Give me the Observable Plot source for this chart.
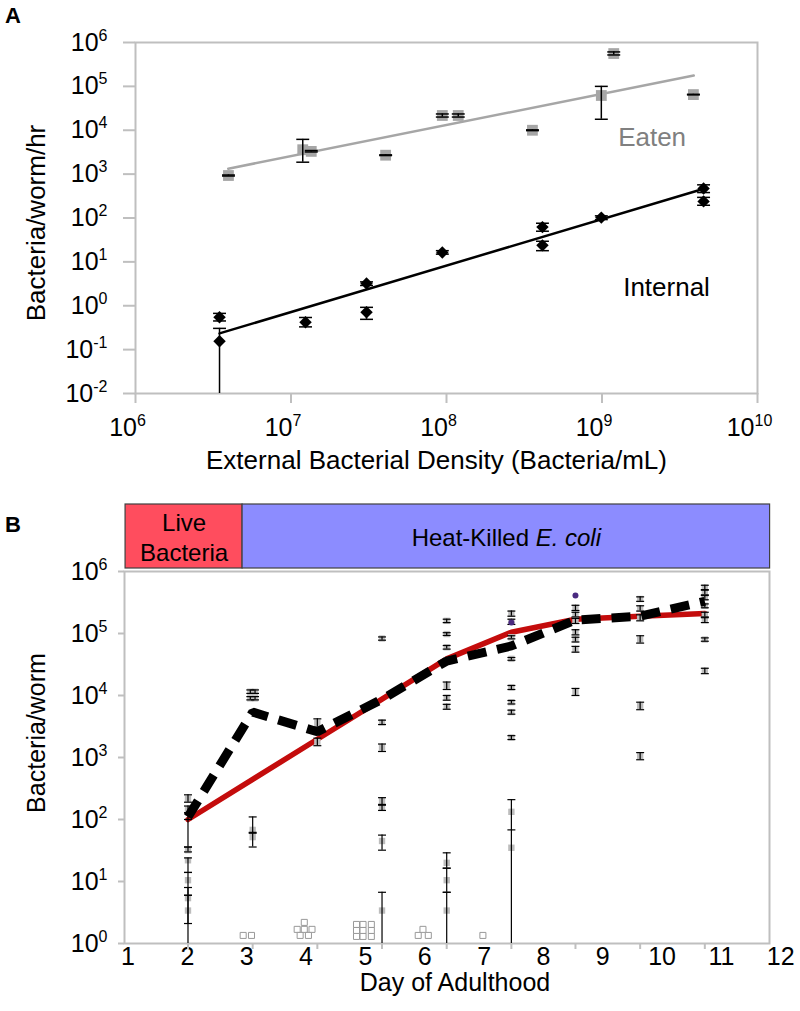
<!DOCTYPE html>
<html>
<head>
<meta charset="utf-8">
<script src="https://cdn.jsdelivr.net/npm/d3@7"></script>
<script src="https://cdn.jsdelivr.net/npm/@observablehq/plot@0.6"></script>
<style>
  body { margin: 0; background: #fff; font-family: "Liberation Sans", Arial, Helvetica, sans-serif; }
  #wrap { position: relative; width: 800px; height: 1011px; overflow: hidden; background: #fff; }
  .layer { position: absolute; left: 0; }
  .letter { position: absolute; font-weight: bold; font-size: 22px; line-height: 24px; }
</style>
</head>
<body>
<div id="wrap">
  <div id="pa" class="layer" style="top:0px"></div>
  <div id="pb" class="layer" style="top:500px"></div>
  <div id="banner" class="layer" style="top:502px"></div>
  <div class="letter" style="left:5px;top:4px">A</div>
  <div class="letter" style="left:5px;top:513px">B</div>
</div>
<script>
// ---------------- Panel A data ----------------
const xTicksA = [1e6, 1e7, 1e8, 1e9, 1e10];
const yTicksA = [1e-2, 1e-1, 1e0, 1e1, 1e2, 1e3, 1e4, 1e5, 1e6];

const eatenDensity = [3.96e6, 1.19e7, 1.35e7, 4.06e7, 9.4e7, 1.19e8, 3.57e8, 9.9e8, 1.19e9, 3.87e9];
const eatenRate    = [930, 3600, 3300, 2700, 21700, 21700, 1.0e4, 6.2e4, 5.6e5, 6.5e4];
const eatenLow     = [905, 1870, 3200, 2650, 20000, 20000, 9800, 1.78e4, 5.2e5, 6.4e4];
const eatenHigh    = [955, 6200, 3450, 2750, 23500, 23500, 10200, 1.0e5, 6.1e5, 6.6e4];

const internalDensity = [3.47e6, 3.47e6, 1.24e7, 3.06e7, 3.06e7, 9.4e7, 4.14e8, 4.14e8, 9.9e8, 4.5e9, 4.5e9];
const internalRate    = [0.545, 0.155, 0.42, 3.2, 0.71, 16.4, 62, 23.8, 102, 472, 239];
const internalLow     = [0.45, 0.01, 0.33, 2.9, 0.49, 15, 50, 18, 92, 380, 195];
const internalHigh    = [0.67, 0.305, 0.54, 3.5, 0.92, 18, 76, 29.5, 112, 570, 295];

const eatenFitDensity = [3.95e6, 3.89e9];
const eatenFitRate    = [1330, 1.77e5];
const internalFitDensity = [3.47e6, 4.3e9];
const internalFitRate    = [0.234, 442];

const seriesLabels = [
  {x: 2.1e9, y: 6850, text: "Eaten", color: "#808080"},
  {x: 2.6e9, y: 2.63, text: "Internal", color: "#000000"}
];

// ---------------- Panel B data ----------------
const dayTicks = [1, 2, 3, 4, 5, 6, 7, 8, 9, 10, 11, 12];
const yTicksB = [1, 10, 100, 1e3, 1e4, 1e5, 1e6];
const sampleDays = [2.01, 3.10, 4.19, 5.28, 6.37, 7.46, 8.54, 9.63, 10.72];
const fitCurve  = [100, 444, 1970, 8750, 3.9e4, 1.05e5, 1.7e5, 1.9e5, 2.1e5];
const meanCurve = [110, 5400, 2600, 8700, 3.6e4, 6.3e4, 1.65e5, 1.9e5, 3.3e5];

// individual worms: [day, bacteria/worm, lower, upper]
const wormRows = [
  [2.01, 215, 190, 250], [2.01, 145, 128, 165], [2.01, 32, 30, 36], [2.01, 22, 14, 24],
  [2.01, 10.5, 6, 14], [2.01, 5.4, 2.1, 8], [2.01, 3.4, 1, 6],
  [3.06, 11500, 10800, 12300], [3.14, 11500, 10800, 12300], [3.06, 9000, 8500, 9600], [3.14, 9000, 8500, 9600],
  [3.10, 68, 60, 110], [3.10, 52, 36, 62],
  [4.19, 3600, 3100, 4200], [4.19, 1800, 1550, 2050],
  [5.28, 8.3e4, 7.8e4, 8.8e4], [5.28, 3700, 3400, 4000], [5.28, 1450, 1250, 1650], [5.28, 200, 175, 225],
  [5.28, 155, 140, 170], [5.28, 45, 32, 56], [5.28, 3.4, 1, 6.7],
  [6.37, 1.6e5, 1.5e5, 1.7e5], [6.37, 9.8e4, 9.3e4, 1.03e5], [6.37, 6.0e4, 5.6e4, 6.4e4], [6.37, 3.7e4, 3.45e4, 3.95e4],
  [6.37, 1.45e4, 1.25e4, 1.65e4], [6.37, 9200, 8400, 1.0e4], [6.37, 6600, 6000, 7200],
  [6.37, 20, 16.4, 29], [6.37, 10.5, 6.7, 16.4], [6.37, 3.4, 1, 6.7],
  [7.46, 2.1e5, 1.9e5, 2.3e5], [7.46, 1.55e5, 1.4e5, 1.7e5], [7.46, 8.7e4, 8.2e4, 9.2e4], [7.46, 3.9e4, 3.7e4, 4.1e4],
  [7.46, 1.35e4, 1.25e4, 1.45e4], [7.46, 7800, 7300, 8300], [7.46, 5400, 5000, 5800], [7.46, 2100, 1950, 2250],
  [7.46, 133, null, null], [7.46, 35, null, null],
  [8.54, 2.6e5, 2.35e5, 2.85e5], [8.54, 2.0e5, 1.85e5, 2.2e5], [8.54, 1.6e5, 1.45e5, 1.75e5], [8.54, 1.05e5, 9.5e4, 1.15e5],
  [8.54, 8.0e4, 7.3e4, 8.7e4], [8.54, 5.5e4, 5.0e4, 6.2e4], [8.54, 1.15e4, 1.0e4, 1.3e4],
  [9.63, 3.6e5, 3.3e5, 3.9e5], [9.63, 2.5e5, 2.3e5, 2.8e5], [9.63, 1.8e5, 1.6e5, 2.0e5], [9.63, 8.0e4, 7.0e4, 9.2e4],
  [9.63, 6800, 5900, 7800], [9.63, 1050, 920, 1200],
  [10.72, 5.5e5, 5.1e5, 6.0e5], [10.72, 4.6e5, 4.2e5, 5.0e5], [10.72, 3.8e5, 3.5e5, 4.1e5], [10.72, 2.8e5, 2.6e5, 3.0e5],
  [10.72, 2.0e5, 1.85e5, 2.2e5], [10.72, 1.65e5, 1.5e5, 1.8e5], [10.72, 8.0e4, 7.5e4, 8.5e4], [10.72, 2.5e4, 2.25e4, 2.75e4]
];
// group means with error: [day, mean, lower, upper]
const meanRows = [[2.01, 100, 36, 128], [7.46, 68, 1, 209]];
// undetected worms (open squares): [day, plotted value]
const undetected = [
  [2.94, 1.35], [3.08, 1.35],
  [3.97, 2.19], [3.85, 1.69], [3.97, 1.69], [4.10, 1.69], [3.90, 1.35], [4.04, 1.35],
  [4.85, 2.03], [4.96, 2.03], [5.10, 2.03], [4.85, 1.62], [4.96, 1.62], [5.10, 1.62], [4.85, 1.30], [4.96, 1.30], [5.10, 1.30],
  [5.89, 1.35], [5.97, 1.69], [6.06, 1.35],
  [6.98, 1.35]
];
const outliers = [[7.46, 1.5e5], [8.54, 4.1e5]];

const phases = [
  {label: "Live\nBacteria", start: 0.958, end: 2.93, fill: "#ff4d5e"},
  {label: "Heat-Killed E. coli", start: 2.93, end: 11.82, fill: "#8c8cff"}
];

// ---------------- helpers ----------------
const fontFam = '"Liberation Sans", Arial, Helvetica, sans-serif';
const gridGray = "#bfbfbf";
const supFmt = d => "10^" + Math.round(Math.log10(d));
const capSymbol = {draw(ctx, size) { const w = Math.sqrt(size); ctx.moveTo(-w / 2, 0); ctx.lineTo(w / 2, 0); }};
const diamond = d3.symbolDiamond2 || "diamond";
const baseStyle = {fontFamily: fontFam, fontSize: "25px", background: "transparent", color: "black", overflow: "visible"};

function supify(svg, opts = {}) {
  const ns = "http://www.w3.org/2000/svg";
  svg.querySelectorAll("text").forEach(t => {
    const m = /^10\^(-?\d+)$/.exec(t.textContent);
    if (!m) return;
    t.textContent = "10";
    const s = document.createElementNS(ns, "tspan");
    s.setAttribute("font-size", "16");
    s.setAttribute("dy", "-10");
    s.textContent = m[1];
    t.appendChild(s);
  });
  if (opts.xdx) svg.querySelectorAll('g[aria-label="x-axis tick label"] text').forEach(t => t.setAttribute("dx", opts.xdx));
}
function addYTitle(svg, text, x, y, size) {
  d3.select(svg).append("text")
    .attr("transform", `translate(${x},${y}) rotate(-90)`)
    .attr("text-anchor", "middle").attr("dy", "0.35em")
    .attr("font-size", size).attr("fill", "#000")
    .text(text);
}

// ---------------- Panel A ----------------
const eaten = eatenDensity.map((x, i) => ({x, y: eatenRate[i], lo: eatenLow[i], hi: eatenHigh[i]}));
const internal = internalDensity.map((x, i) => ({x, y: internalRate[i], lo: internalLow[i], hi: internalHigh[i]}));
const eatenFit = eatenFitDensity.map((x, i) => ({x, y: eatenFitRate[i]}));
const internalFit = internalFitDensity.map((x, i) => ({x, y: internalFitRate[i]}));
const minA = yTicksA[0];

const plotA = Plot.plot({
  width: 800, height: 495,
  marginTop: 42, marginRight: 43, marginBottom: 102, marginLeft: 135,
  style: baseStyle,
  x: {type: "log", domain: [xTicksA[0], xTicksA[xTicksA.length - 1]]},
  y: {type: "log", domain: [yTicksA[0], yTicksA[yTicksA.length - 1]]},
  color: {type: "identity"},
  marks: [
    Plot.frame({stroke: gridGray, strokeWidth: 2}),
    Plot.axisY(yTicksA, {tickSize: 12, tickPadding: 16, tickFormat: supFmt, stroke: gridGray, strokeWidth: 2, fontSize: 25, label: null}),
    Plot.axisX(xTicksA, {tickSize: 10, tickPadding: 15, tickFormat: supFmt, stroke: gridGray, strokeWidth: 2, fontSize: 25, label: null}),
    Plot.line(eatenFit, {x: "x", y: "y", stroke: "#a6a6a6", strokeWidth: 2.5}),
    Plot.line(internalFit, {x: "x", y: "y", stroke: "#000", strokeWidth: 2.5}),
    Plot.dot(eaten, {x: "x", y: "y", symbol: "square", r: 6.1, fill: "#a6a6a6", stroke: "none"}),
    Plot.ruleX(eaten, {x: "x", y1: "lo", y2: "hi", stroke: "#000", strokeWidth: 1.5}),
    Plot.dot(eaten, {x: "x", y: "lo", symbol: capSymbol, r: 7.3, fill: "none", stroke: "#000", strokeWidth: 1.5}),
    Plot.dot(eaten, {x: "x", y: "hi", symbol: capSymbol, r: 7.3, fill: "none", stroke: "#000", strokeWidth: 1.5}),
    Plot.ruleX(internal, {x: "x", y1: "lo", y2: "hi", stroke: "#000", strokeWidth: 1.5}),
    Plot.dot(internal.filter(d => d.lo > minA), {x: "x", y: "lo", symbol: capSymbol, r: 7.3, fill: "none", stroke: "#000", strokeWidth: 1.5}),
    Plot.dot(internal, {x: "x", y: "hi", symbol: capSymbol, r: 7.3, fill: "none", stroke: "#000", strokeWidth: 1.5}),
    Plot.dot(internal, {x: "x", y: "y", symbol: diamond, r: 5.6, fill: "#000", stroke: "none"}),
    Plot.text(seriesLabels, {x: "x", y: "y", text: "text", fill: "color", fontSize: 26}),
    Plot.text(["External Bacterial Density (Bacteria/mL)"], {text: d => d, frameAnchor: "bottom", dy: 75, dx: -10, fontSize: 26})
  ]
});
supify(plotA, {xdx: -8});
addYTitle(plotA, "Bacteria/worm/hr", 36, 223, 26);
document.getElementById("pa").appendChild(plotA);

// ---------------- Panel B ----------------
const xDomainB = [0.94, 11.81];
const fit = sampleDays.map((d, i) => ({d, v: fitCurve[i]}));
const meanLine = sampleDays.map((d, i) => ({d, v: meanCurve[i]}));
const worms = wormRows.map(([d, v, lo, hi]) => ({d, v, lo, hi}));
const wormBars = worms.filter(w => w.lo != null);
const means = meanRows.map(([d, v, lo, hi]) => ({d, v, lo, hi}));
const zeros = undetected.map(([d, v]) => ({d, v}));
const odd = outliers.map(([d, v]) => ({d, v}));
const minB = yTicksB[0];
const capB = {symbol: capSymbol, r: 4.5, fill: "none", stroke: "#000", strokeWidth: 1.2};

const plotB = Plot.plot({
  width: 800, height: 511,
  marginTop: 71, marginRight: 31, marginBottom: 68, marginLeft: 124,
  style: baseStyle,
  x: {domain: xDomainB},
  y: {type: "log", domain: [yTicksB[0], yTicksB[yTicksB.length - 1]]},
  marks: [
    Plot.frame({stroke: gridGray, strokeWidth: 2}),
    Plot.axisY(yTicksB, {tickSize: 6, tickPadding: 11, tickFormat: supFmt, stroke: gridGray, strokeWidth: 2, fontSize: 25, label: null}),
    Plot.axisX(dayTicks, {tickSize: 0, tickPadding: 4, fontSize: 25, label: null}),
    Plot.axisX(sampleDays, {tickSize: 6, tickFormat: () => "", stroke: gridGray, strokeWidth: 2, label: null}),
    Plot.dot(zeros, {x: "d", y: "v", symbol: "square", r: 3.4, fill: "#fff", stroke: "#999", strokeWidth: 1}),
    Plot.line(fit, {x: "d", y: "v", stroke: "#c40c0c", strokeWidth: 5.5}),
    Plot.dot(worms, {x: "d", y: "v", symbol: "square", r: 3.6, fill: "#bdbdbd", stroke: "none"}),
    Plot.ruleX(wormBars, {x: "d", y1: "lo", y2: "hi", stroke: "#000", strokeWidth: 1.2}),
    Plot.dot(wormBars.filter(w => w.lo > minB), {x: "d", y: "lo", ...capB}),
    Plot.dot(wormBars, {x: "d", y: "hi", ...capB}),
    Plot.ruleX(means, {x: "d", y1: "lo", y2: "hi", stroke: "#000", strokeWidth: 1.2}),
    Plot.dot(means, {x: "d", y: "v", ...capB}),
    Plot.dot(means.filter(w => w.lo > minB), {x: "d", y: "lo", ...capB}),
    Plot.dot(means, {x: "d", y: "hi", ...capB}),
    Plot.dot(odd, {x: "d", y: "v", r: 3, fill: "#4a2a80", stroke: "none"}),
    Plot.line(meanLine, {x: "d", y: "v", stroke: "#000", strokeWidth: 9, strokeDasharray: "19,11", strokeLinecap: "butt", strokeLinejoin: "miter"}),
    Plot.text(["Day of Adulthood"], {text: d => d, frameAnchor: "bottom", dy: 47, dx: 8, fontSize: 25})
  ]
});
supify(plotB);
addYTitle(plotB, "Bacteria/worm", 36, 233, 25);
document.getElementById("pb").appendChild(plotB);

// ---------------- Banner ----------------
const banner = Plot.plot({
  width: 800, height: 68,
  marginTop: 2, marginBottom: 2, marginLeft: 124, marginRight: 31,
  style: baseStyle,
  x: {domain: xDomainB, axis: null},
  color: {type: "identity"},
  marks: [
    Plot.rect(phases, {x1: "start", x2: "end", fill: "fill", stroke: "#404040", strokeWidth: 1.2}),
    Plot.text(phases, {x: d => (d.start + d.end) / 2, frameAnchor: "middle", text: "label", fontSize: 24, lineHeight: 1.25, fill: "#000"})
  ]
});
banner.querySelectorAll("text").forEach(t => {
  if (t.textContent === "Heat-Killed E. coli") {
    t.textContent = "Heat-Killed ";
    const s = document.createElementNS("http://www.w3.org/2000/svg", "tspan");
    s.setAttribute("font-style", "italic");
    s.textContent = "E. coli";
    t.appendChild(s);
  }
});
document.getElementById("banner").appendChild(banner);
</script>
</body>
</html>
